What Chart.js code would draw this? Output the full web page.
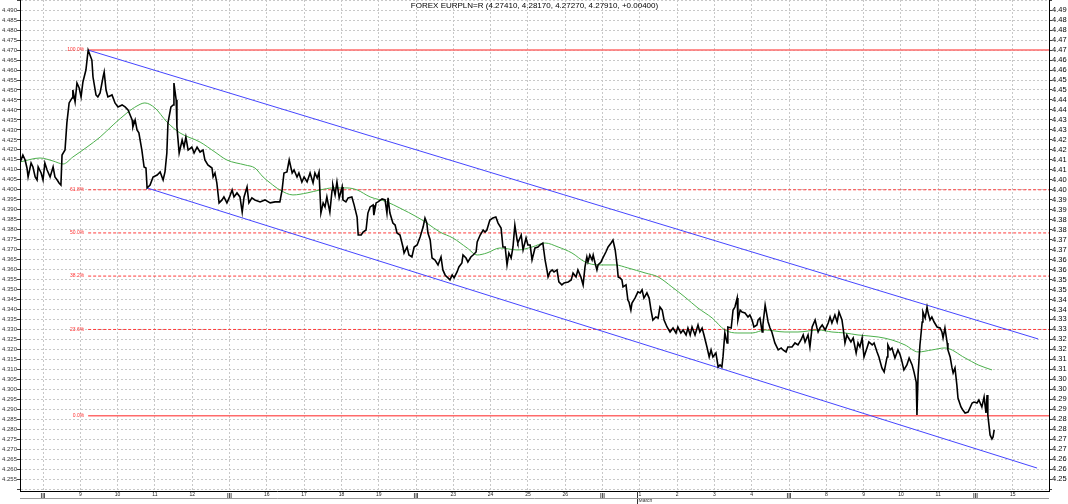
<!DOCTYPE html>
<html>
<head>
<meta charset="utf-8">
<script src="https://cdn.jsdelivr.net/npm/chart.js@4.4.0/dist/chart.umd.min.js"></script>
<style>
  html, body { margin: 0; padding: 0; background: #fff; }
  #wrap { width: 1068px; height: 504px; }
</style>
</head>
<body>
<div id="wrap"><canvas id="chart" width="1068" height="504"></canvas></div>
<script>
// EURPLN intraday, x = trading-day slot (0 = first week marker)
const chartTitle = 'FOREX EURPLN=R (4.27410, 4.28170, 4.27270, 4.27910, +0.00400)';

const dayLabels = ['|||', '9', '10', '11', '12', '|||', '16', '17', '18', '19', '|||', '23', '24', '25', '26',
    '|||', '1', '2', '3', '4', '|||', '8', '9', '10', '11', '|||', '15'];
const monthLabel = 'March';
const monthSlot = 16;

const yTickValues = [4.250, 4.255, 4.260, 4.265, 4.270, 4.275, 4.280, 4.285, 4.290, 4.295,
    4.300, 4.305, 4.310, 4.315, 4.320, 4.325, 4.330, 4.335, 4.340, 4.345,
    4.350, 4.355, 4.360, 4.365, 4.370, 4.375, 4.380, 4.385, 4.390, 4.395,
    4.400, 4.405, 4.410, 4.415, 4.420, 4.425, 4.430, 4.435, 4.440, 4.445,
    4.450, 4.455, 4.460, 4.465, 4.470, 4.475, 4.480, 4.485, 4.490, 4.495];

const priceTimes = [
    -0.62, -0.54, -0.48, -0.43, -0.40, -0.32, -0.27, -0.21, -0.16, -0.13,
    -0.05, 0, 0.05, 0.11, 0.19, 0.27, 0.32, 0.38, 0.43, 0.48,
    0.51, 0.59, 0.64, 0.70, 0.78, 0.80, 0.86, 0.91, 0.97, 1.02,
    1.07, 1.15, 1.21, 1.31, 1.34, 1.42, 1.47, 1.53, 1.61, 1.64,
    1.69, 1.74, 1.85, 1.93, 2.01, 2.12, 2.20, 2.28, 2.39, 2.41,
    2.47, 2.52, 2.57, 2.65, 2.71, 2.76, 2.79, 2.87, 2.95, 3.06,
    3.14, 3.22, 3.27, 3.32, 3.35, 3.43, 3.49, 3.51, 3.57, 3.59,
    3.65, 3.73, 3.78, 3.83, 3.89, 3.99, 4.05, 4.13, 4.21, 4.29,
    4.34, 4.42, 4.53, 4.56, 4.61, 4.66, 4.72, 4.80, 4.85, 4.93,
    4.99, 5.07, 5.12, 5.20, 5.28, 5.34, 5.39, 5.47, 5.52, 5.60,
    5.68, 5.82, 5.95, 6.09, 6.22, 6.35, 6.41, 6.46, 6.54, 6.60,
    6.68, 6.73, 6.81, 6.86, 6.94, 7.00, 7.08, 7.16, 7.24, 7.29,
    7.35, 7.40, 7.45, 7.51, 7.56, 7.61, 7.64, 7.69, 7.75, 7.77,
    7.83, 7.88, 7.94, 8.02, 8.04, 8.12, 8.18, 8.28, 8.34, 8.42,
    8.45, 8.53, 8.58, 8.66, 8.71, 8.77, 8.85, 8.87, 8.93, 8.98,
    9.09, 9.17, 9.22, 9.25, 9.30, 9.38, 9.44, 9.49, 9.57, 9.65,
    9.68, 9.76, 9.81, 9.89, 9.95, 10.03, 10.11, 10.19, 10.24, 10.29,
    10.32, 10.38, 10.43, 10.51, 10.59, 10.67, 10.72, 10.78, 10.83, 10.91,
    10.97, 11.02, 11.10, 11.15, 11.23, 11.26, 11.34, 11.39, 11.47, 11.53,
    11.61, 11.64, 11.72, 11.80, 11.85, 11.90, 11.98, 12.06, 12.14, 12.20,
    12.28, 12.33, 12.39, 12.44, 12.49, 12.55, 12.60, 12.65, 12.71, 12.73,
    12.82, 12.87, 12.95, 13.00, 13.06, 13.11, 13.19, 13.27, 13.32, 13.40,
    13.46, 13.51, 13.54, 13.59, 13.65, 13.70, 13.78, 13.83, 13.91, 13.97,
    14.08, 14.16, 14.21, 14.29, 14.34, 14.42, 14.48, 14.53, 14.58, 14.61,
    14.66, 14.72, 14.75, 14.80, 14.85, 14.88, 14.96, 15.01, 15.09, 15.15,
    15.23, 15.28, 15.34, 15.39, 15.42, 15.47, 15.52, 15.55, 15.63, 15.68,
    15.71, 15.76, 15.79, 15.87, 15.95, 16.01, 16.06, 16.11, 16.19, 16.25,
    16.30, 16.35, 16.43, 16.49, 16.54, 16.60, 16.65, 16.73, 16.81, 16.89,
    16.97, 17.02, 17.10, 17.16, 17.24, 17.29, 17.35, 17.40, 17.48, 17.56,
    17.61, 17.67, 17.72, 17.80, 17.86, 17.91, 17.96, 18.04, 18.10, 18.15,
    18.20, 18.23, 18.28, 18.34, 18.36, 18.45, 18.50, 18.55, 18.61, 18.63,
    18.69, 18.74, 18.82, 18.90, 18.95, 19.01, 19.06, 19.14, 19.17, 19.22,
    19.28, 19.30, 19.36, 19.44, 19.49, 19.54, 19.62, 19.71, 19.79, 19.84,
    19.92, 19.97, 20.08, 20.16, 20.24, 20.32, 20.38, 20.43, 20.51, 20.56,
    20.62, 20.70, 20.75, 20.78, 20.83, 20.89, 20.97, 21.05, 21.10, 21.15,
    21.23, 21.29, 21.34, 21.42, 21.45, 21.50, 21.55, 21.58, 21.66, 21.72,
    21.80, 21.85, 21.90, 21.96, 22.01, 22.09, 22.14, 22.23, 22.28, 22.36,
    22.41, 22.49, 22.55, 22.63, 22.65, 22.71, 22.76, 22.84, 22.92, 22.98,
    23.03, 23.08, 23.16, 23.22, 23.30, 23.35, 23.41, 23.43, 23.46, 23.51,
    23.57, 23.59, 23.65, 23.70, 23.73, 23.78, 23.83, 23.89, 23.97, 24.05,
    24.10, 24.13, 24.18, 24.24, 24.26, 24.32, 24.37, 24.40, 24.45, 24.50,
    24.53, 24.61, 24.66, 24.72, 24.80, 24.85, 24.91, 24.96, 25.04, 25.09,
    25.17, 25.23, 25.28, 25.31, 25.33, 25.39, 25.44, 25.47, 25.50
];

const priceValues = [
    4.4134, 4.4174, 4.4149, 4.4109, 4.4064, 4.4134, 4.4114, 4.4064, 4.4049, 4.4114,
    4.4084, 4.4049, 4.4134, 4.4099, 4.4064, 4.4114, 4.4064, 4.4049, 4.4034, 4.4024,
    4.4174, 4.4199, 4.4335, 4.4435, 4.4460, 4.4500, 4.4440, 4.4535, 4.4510, 4.4465,
    4.4540, 4.4600, 4.4700, 4.4650, 4.4565, 4.4475, 4.4465, 4.4485, 4.4565, 4.4590,
    4.4500, 4.4465, 4.4475, 4.4435, 4.4415, 4.4425, 4.4415, 4.4400, 4.4350, 4.4315,
    4.4350, 4.4300, 4.4285, 4.4199, 4.4114, 4.4109, 4.4009, 4.4024, 4.4064, 4.4074,
    4.4089, 4.4049, 4.4089, 4.4184, 4.4335, 4.4415, 4.4425, 4.4535, 4.4450, 4.4315,
    4.4184, 4.4249, 4.4214, 4.4264, 4.4199, 4.4214, 4.4184, 4.4214, 4.4189, 4.4199,
    4.4149, 4.4124, 4.4109, 4.4064, 4.4084, 4.4034, 4.3934, 4.3949, 4.3964, 4.3934,
    4.3959, 4.3999, 4.3964, 4.3984, 4.3964, 4.3888, 4.3964, 4.4014, 4.3934, 4.3959,
    4.3949, 4.3939, 4.3949, 4.3934, 4.3939, 4.3939, 4.3999, 4.4084, 4.4089, 4.4149,
    4.4084, 4.4099, 4.4064, 4.4084, 4.4039, 4.4064, 4.4039, 4.4084, 4.4034, 4.4084,
    4.4059, 4.4089, 4.3883, 4.3934, 4.3914, 4.3964, 4.3934, 4.3888, 4.3999, 4.4024,
    4.3974, 4.4039, 4.3959, 4.4014, 4.3949, 4.3939, 4.3959, 4.3964, 4.3924, 4.3863,
    4.3773, 4.3773, 4.3788, 4.3798, 4.3883, 4.3914, 4.3924, 4.3873, 4.3934, 4.3939,
    4.3954, 4.3949, 4.3883, 4.3959, 4.3883, 4.3833, 4.3823, 4.3783, 4.3773, 4.3713,
    4.3683, 4.3713, 4.3673, 4.3663, 4.3713, 4.3723, 4.3763, 4.3813, 4.3858, 4.3833,
    4.3783, 4.3748, 4.3658, 4.3648, 4.3623, 4.3663, 4.3598, 4.3573, 4.3563, 4.3548,
    4.3573, 4.3558, 4.3588, 4.3613, 4.3633, 4.3673, 4.3658, 4.3638, 4.3663, 4.3673,
    4.3688, 4.3738, 4.3773, 4.3798, 4.3788, 4.3798, 4.3848, 4.3858, 4.3863, 4.3833,
    4.3808, 4.3713, 4.3713, 4.3623, 4.3683, 4.3658, 4.3713, 4.3823, 4.3748, 4.3733,
    4.3773, 4.3698, 4.3758, 4.3723, 4.3723, 4.3648, 4.3708, 4.3713, 4.3723, 4.3733,
    4.3648, 4.3598, 4.3563, 4.3588, 4.3598, 4.3588, 4.3598, 4.3538, 4.3523, 4.3533,
    4.3538, 4.3548, 4.3583, 4.3563, 4.3598, 4.3563, 4.3523, 4.3613, 4.3663, 4.3638,
    4.3673, 4.3648, 4.3673, 4.3633, 4.3598, 4.3623, 4.3638, 4.3658, 4.3688, 4.3713,
    4.3733, 4.3748, 4.3698, 4.3623, 4.3563, 4.3558, 4.3548, 4.3513, 4.3523, 4.3447,
    4.3437, 4.3397, 4.3432, 4.3457, 4.3488, 4.3483, 4.3498, 4.3457, 4.3483, 4.3457,
    4.3397, 4.3347, 4.3362, 4.3357, 4.3412, 4.3397, 4.3347, 4.3312, 4.3287, 4.3307,
    4.3282, 4.3312, 4.3282, 4.3297, 4.3272, 4.3307, 4.3272, 4.3312, 4.3272, 4.3322,
    4.3287, 4.3307, 4.3272, 4.3212, 4.3162, 4.3197, 4.3162, 4.3182, 4.3112, 4.3122,
    4.3112, 4.3162, 4.3282, 4.3232, 4.3312, 4.3307, 4.3397, 4.3412, 4.3457, 4.3347,
    4.3397, 4.3387, 4.3382, 4.3362, 4.3372, 4.3347, 4.3312, 4.3322, 4.3347, 4.3357,
    4.3287, 4.3322, 4.3422, 4.3337, 4.3307, 4.3287, 4.3232, 4.3197, 4.3207, 4.3197,
    4.3187, 4.3212, 4.3212, 4.3232, 4.3222, 4.3247, 4.3272, 4.3237, 4.3272, 4.3212,
    4.3312, 4.3347, 4.3307, 4.3287, 4.3307, 4.3322, 4.3297, 4.3332, 4.3362, 4.3332,
    4.3372, 4.3337, 4.3387, 4.3347, 4.3307, 4.3232, 4.3272, 4.3262, 4.3237, 4.3257,
    4.3182, 4.3232, 4.3212, 4.3257, 4.3162, 4.3207, 4.3237, 4.3222, 4.3232, 4.3187,
    4.3162, 4.3107, 4.3087, 4.3162, 4.3222, 4.3197, 4.3207, 4.3157, 4.3197, 4.3172,
    4.3137, 4.3097, 4.3122, 4.3157, 4.3122, 4.3087, 4.3036, 4.2871, 4.3072, 4.3222,
    4.3337, 4.3387, 4.3357, 4.3412, 4.3382, 4.3347, 4.3362, 4.3337, 4.3312, 4.3307,
    4.3287, 4.3257, 4.3307, 4.3232, 4.3197, 4.3162, 4.3107, 4.3082, 4.3107, 4.3021,
    4.2956, 4.2911, 4.2896, 4.2881, 4.2886, 4.2906, 4.2931, 4.2936, 4.2931, 4.2946,
    4.2911, 4.2961, 4.2881, 4.2971, 4.2871, 4.2771, 4.2751, 4.2761, 4.2796
];

// moving average (green)
const maTimes = [-0.62, -0.08, 0.27, 0.54, 0.80, 1.18, 1.53, 1.88, 2.25, 2.52,
    2.73, 3.00, 3.32, 3.67, 4.21, 4.61, 4.93, 5.42, 5.68, 5.90,
    6.09, 6.35, 6.70, 7.08, 7.43, 7.77, 8.15, 8.42, 8.77, 9.22,
    9.57, 10.03, 10.29, 10.64, 10.99, 11.37, 11.64, 11.90, 12.25, 12.73,
    13.11, 13.46, 13.81, 14.18, 14.53, 14.88, 15.34, 15.68, 16.14, 16.49,
    16.86, 17.21, 17.56, 17.94, 18.28, 18.63, 19.01, 19.36, 19.89, 20.24,
    20.78, 21.15, 21.50, 21.85, 22.39, 22.76, 23.11, 23.46, 23.83, 24.18,
    24.72, 25.07, 25.44];
const maValues = [4.4139, 4.4159, 4.4144, 4.4129, 4.4164, 4.4214, 4.4264, 4.4325, 4.4385, 4.4420,
    4.4435, 4.4410, 4.4340, 4.4285, 4.4239, 4.4189, 4.4149, 4.4124, 4.4109, 4.4064,
    4.4034, 4.3999, 4.3974, 4.3984, 4.3999, 4.4009, 4.4009, 4.3999, 4.3964, 4.3939,
    4.3908, 4.3863, 4.3833, 4.3788, 4.3758, 4.3708, 4.3673, 4.3683, 4.3708, 4.3698,
    4.3713, 4.3733, 4.3713, 4.3683, 4.3638, 4.3623, 4.3623, 4.3608, 4.3583, 4.3563,
    4.3513, 4.3462, 4.3407, 4.3357, 4.3297, 4.3282, 4.3282, 4.3297, 4.3287, 4.3287,
    4.3297, 4.3287, 4.3282, 4.3272, 4.3262, 4.3247, 4.3222, 4.3187, 4.3197, 4.3207,
    4.3157, 4.3122, 4.3097];

// trend channel (blue)
const upperChannel = { t: [1.21, 26.68], v: [4.4700, 4.3252] };
const lowerChannel = { t: [2.79, 26.65], v: [4.4009, 4.2605] };

// fibonacci retracement
const fibHigh = 4.4700;
const fibLow = 4.2867;
const fibStart = 1.21;
const fibRatios = [1, 0.618, 0.5, 0.382, 0.236, 0];
const fibLabels = ['100.0%', '61.8%', '50.0%', '38.2%', '23.6%', '0.0%'];

const xMin = -0.617;
const xMax = 26.97;
const yMin = 4.249;
const yMax = 4.4951;

const FONT = '"Liberation Sans", Arial, sans-serif';

function pairs(ts, vs) {
    return ts.map((t, i) => ({ x: t, y: vs[i] }));
}

// no extra padding from edge labels, the plot runs to the canvas top
function noPad(scale) {
    scale.paddingTop = 0;
    scale.paddingBottom = 0;
    scale.paddingLeft = 0;
    scale.paddingRight = 0;
}

const fibDatasets = fibRatios.map((r, i) => {
    const level = fibLow + (fibHigh - fibLow) * r;
    const solid = (r === 0 || r === 1);
    return {
        data: [{ x: fibStart, y: level }, { x: xMax, y: level }],
        borderColor: solid ? '#ff6b6b' : '#ff3b3b',
        borderWidth: solid ? 1.5 : 1,
        borderDash: solid ? [] : [3, 2],
        pointRadius: 0
    };
});

const overlayPlugin = {
    id: 'overlay',
    beforeDraw(chart) {
        const ctx = chart.ctx;
        ctx.save();
        ctx.fillStyle = '#fff';
        ctx.fillRect(0, 0, chart.width, chart.height);
        ctx.restore();
    },
    afterDraw(chart) {
        const ctx = chart.ctx;
        const xs = chart.scales.x;
        const ys = chart.scales.y;
        const area = chart.chartArea;
        ctx.save();

        // title
        ctx.fillStyle = '#000';
        ctx.font = '8px ' + FONT;
        ctx.textAlign = 'center';
        ctx.textBaseline = 'middle';
        ctx.fillText(chartTitle, (area.left + area.right) / 2, 6);

        // fib labels
        ctx.font = '5px ' + FONT;
        ctx.fillStyle = '#ff3030';
        ctx.textAlign = 'right';
        fibRatios.forEach((r, i) => {
            const level = fibLow + (fibHigh - fibLow) * r;
            ctx.fillText(fibLabels[i], xs.getPixelForValue(fibStart) - 4, ys.getPixelForValue(level));
        });

        // month marker
        const mx = Math.round(xs.getPixelForValue(monthSlot)) - 2.5;
        ctx.strokeStyle = '#333';
        ctx.lineWidth = 1;
        ctx.beginPath();
        ctx.moveTo(mx, area.bottom);
        ctx.lineTo(mx, chart.height);
        ctx.stroke();
        ctx.fillStyle = '#333';
        ctx.font = '5px ' + FONT;
        ctx.textAlign = 'left';
        ctx.fillText(monthLabel, mx + 1, area.bottom + 10);

        // lower frame line
        ctx.strokeStyle = '#999';
        ctx.beginPath();
        ctx.moveTo(area.left, area.bottom + 7.5);
        ctx.lineTo(area.right, area.bottom + 7.5);
        ctx.stroke();
        ctx.restore();
    }
};

new Chart(document.getElementById('chart'), {
    type: 'line',
    data: {
        datasets: [
            {
                data: pairs(priceTimes, priceValues),
                borderColor: '#000',
                borderWidth: 1.6,
                pointRadius: 0
            },
            {
                data: pairs(maTimes, maValues),
                borderColor: '#4cb04c',
                borderWidth: 1,
                pointRadius: 0,
                cubicInterpolationMode: 'monotone'
            },
            {
                data: pairs(upperChannel.t, upperChannel.v),
                borderColor: '#4646ff',
                borderWidth: 1,
                pointRadius: 0
            },
            {
                data: pairs(lowerChannel.t, lowerChannel.v),
                borderColor: '#4646ff',
                borderWidth: 1,
                pointRadius: 0
            },
            ...fibDatasets
        ]
    },
    options: {
        responsive: false,
        animation: false,
        devicePixelRatio: 1,
        layout: { padding: 0 },
        plugins: {
            legend: { display: false },
            tooltip: { enabled: false }
        },
        scales: {
            x: {
                type: 'linear',
                min: xMin,
                max: xMax,
                afterBuildTicks: (scale) => {
                    scale.ticks = dayLabels.map((l, i) => ({ value: i }));
                },
                afterFit: (scale) => { scale.height = 13; noPad(scale); },
                ticks: {
                    autoSkip: false,
                    maxRotation: 0,
                    padding: 1,
                    color: '#222',
                    font: (c) => ({
                        family: FONT,
                        size: (c.tick && dayLabels[c.tick.value] === '|||') ? 6 : 5,
                        weight: (c.tick && dayLabels[c.tick.value] === '|||') ? 'bold' : 'normal'
                    }),
                    callback: (v) => dayLabels[Math.round(v)]
                },
                grid: { color: '#c8c8c8', drawTicks: false },
                border: { color: '#000', width: 1, dash: [2, 2] }
            },
            y: {
                position: 'left',
                min: yMin,
                max: yMax,
                afterBuildTicks: (scale) => {
                    scale.ticks = yTickValues.map(v => ({ value: v }));
                },
                afterFit: (scale) => { scale.width = 20; noPad(scale); },
                ticks: {
                    autoSkip: false,
                    padding: 0,
                    color: '#333',
                    font: { family: FONT, size: 6 },
                    callback: (v) => (v > 4.2525 && v < 4.4925) ? v.toFixed(3) : ''
                },
                grid: { color: '#c8c8c8', tickLength: 3, tickColor: '#444' },
                border: { color: '#000', width: 1, dash: [2, 2] }
            },
            y2: {
                position: 'right',
                min: yMin,
                max: yMax,
                afterBuildTicks: (scale) => {
                    scale.ticks = yTickValues.map(v => ({ value: v }));
                },
                afterFit: (scale) => { scale.width = 19; noPad(scale); },
                ticks: {
                    autoSkip: false,
                    padding: 0,
                    color: '#000',
                    font: { family: FONT, size: 7.5 },
                    callback: (v) => (v > 4.2525 && v < 4.4925) ? (Math.floor(v * 100 + 1e-6) / 100).toFixed(2) : ''
                },
                grid: { drawOnChartArea: false, tickLength: 3, tickColor: '#444' },
                border: { color: '#000', width: 1 }
            }
        }
    },
    plugins: [overlayPlugin]
});
</script>
</body>
</html>
